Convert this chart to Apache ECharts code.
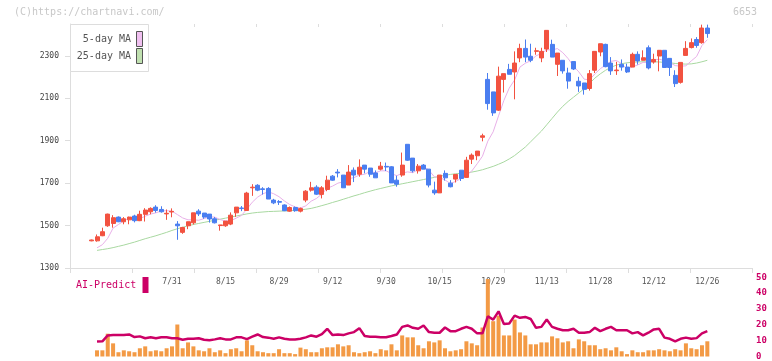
<!DOCTYPE html>
<html><head><meta charset="utf-8">
<script src="https://cdn.jsdelivr.net/npm/echarts@6/dist/echarts.min.js"></script>
<style>html,body{margin:0;padding:0;background:#fff}#c{width:772px;height:361px}</style>
</head><body><div id="c"></div>
<script>
// ---- data ----
const labelAt = {15:'7/31',25:'8/15',35:'8/29',45:'9/12',55:'9/30',65:'10/15',75:'10/29',85:'11/13',95:'11/28',105:'12/12',115:'12/26'};
const yTicks = [1300,1500,1700,1900,2100,2300];
const volTicks = [0,10,20,30,40,50];

const opens = [1428,1428,1452,1499,1510,1540,1518,1527,1545,1523,
1553,1565,1587,1576,1555,1564,1507,1468,1499,1513,
1568,1559,1554,1532,1500,1499,1507,1560,1583,1571,
1678,1690,1673,1675,1620,1613,1597,1568,1585,1568,
1620,1667,1681,1647,1670,1733,1752,1738,1691,1761,
1742,1785,1771,1748,1766,1779,1777,1714,1738,1883,
1818,1758,1785,1766,1667,1654,1746,1700,1719,1761,
1727,1813,1829,1916,2189,2130,2044,2189,2236,2224,
2290,2335,2298,2321,2290,2332,2354,2260,2279,2219,
2273,2180,2172,2146,2232,2318,2354,2266,2230,2260,
2247,2247,2307,2279,2338,2271,2299,2326,2288,2208,
2175,2302,2339,2377,2362,2431];
const highs = [1434,1458,1490,1556,1549,1543,1540,1542,1551,1570,
1582,1586,1596,1591,1576,1581,1521,1494,1518,1560,
1577,1559,1554,1540,1503,1521,1562,1587,1592,1659,
1695,1695,1681,1681,1626,1620,1600,1590,1590,1585,
1667,1706,1690,1686,1735,1738,1766,1738,1785,1774,
1812,1785,1771,1760,1800,1797,1780,1735,1844,1883,
1818,1790,1790,1766,1707,1738,1760,1714,1741,1761,
1824,1840,1851,1933,2219,2130,2249,2216,2262,2321,
2357,2377,2357,2338,2338,2420,2376,2313,2279,2244,
2273,2201,2172,2233,2321,2357,2357,2294,2272,2283,
2263,2315,2321,2326,2349,2310,2326,2326,2288,2232,
2269,2369,2382,2388,2447,2447];
const lows = [1426,1424,1450,1494,1490,1516,1506,1506,1515,1521,
1519,1553,1561,1561,1527,1539,1433,1461,1483,1505,
1545,1532,1514,1510,1476,1494,1502,1541,1568,1571,
1640,1662,1646,1625,1601,1597,1568,1565,1565,1562,
1610,1660,1645,1628,1662,1711,1727,1678,1691,1705,
1730,1746,1730,1725,1760,1757,1701,1683,1730,1805,
1750,1745,1766,1680,1645,1654,1712,1680,1703,1710,
1727,1790,1808,1897,2046,2017,2040,2127,2213,2095,
2270,2270,2270,2305,2270,2318,2294,2205,2216,2145,
2233,2130,2117,2136,2219,2298,2246,2210,2210,2230,
2219,2247,2259,2279,2236,2263,2227,2245,2205,2153,
2169,2302,2335,2338,2357,2385];
const closes = [1432,1447,1471,1554,1537,1518,1532,1540,1523,1553,
1573,1581,1571,1565,1558,1567,1499,1491,1518,1560,
1555,1540,1531,1513,1503,1521,1549,1587,1580,1653,
1681,1667,1670,1625,1607,1610,1570,1585,1570,1580,
1662,1678,1648,1678,1714,1714,1748,1678,1752,1738,
1775,1766,1742,1725,1780,1776,1701,1695,1785,1808,
1758,1780,1766,1691,1654,1738,1725,1683,1741,1722,
1808,1832,1851,1923,2075,2031,2204,2216,2213,2266,
2335,2294,2279,2324,2321,2420,2294,2313,2229,2181,
2238,2158,2142,2216,2321,2357,2249,2229,2233,2247,
2224,2307,2276,2291,2243,2283,2326,2245,2245,2169,
2269,2335,2362,2349,2431,2405];
const ma5 = [null,1395,1410,1440,1488,1505,1522,1536,1530,1533,
1544,1554,1560,1569,1570,1568,1552,1536,1527,1527,
1525,1533,1541,1540,1528,1522,1523,1535,1548,1578,
1610,1634,1650,1659,1650,1636,1616,1599,1588,1583,
1593,1615,1628,1649,1676,1686,1700,1706,1721,1726,
1738,1742,1755,1749,1758,1758,1745,1735,1747,1753,
1749,1765,1779,1761,1730,1726,1715,1698,1708,1722,
1736,1757,1791,1827,1898,1942,2017,2090,2148,2186,
2247,2265,2277,2300,2311,2328,2328,2334,2315,2287,
2251,2224,2190,2187,2215,2239,2257,2274,2278,2263,
2236,2248,2257,2269,2268,2280,2284,2278,2268,2254,
2251,2253,2276,2297,2349,2376];
const ma25 = [null,1383,1387,1391,1396,1402,1408,1415,1422,1430,
1438,1445,1452,1460,1468,1477,1485,1492,1499,1505,
1510,1515,1520,1525,1530,1535,1540,1545,1550,1555,
1559,1562,1564,1566,1567,1568,1569,1570,1572,1574,
1577,1581,1587,1594,1601,1609,1616,1624,1632,1640,
1647,1655,1662,1669,1675,1681,1687,1692,1697,1702,
1707,1712,1717,1722,1727,1732,1737,1741,1744,1746,
1748,1752,1757,1763,1771,1779,1789,1800,1814,1830,
1850,1870,1895,1920,1945,1975,2005,2035,2062,2085,
2105,2125,2145,2170,2195,2215,2232,2246,2256,2263,
2267,2270,2271,2272,2272,2272,2271,2269,2267,2264,
2262,2261,2262,2266,2272,2279];
const volume = [null,3.9,3.9,14.4,8.3,2.7,3.9,3.3,2.7,5.2,
6.4,3.3,3.9,3.3,5.2,6.4,20.2,5.2,8.9,6.4,
3.9,3.3,5.2,2.7,3.9,2.1,4.6,5.2,3.3,10.2,
7.1,3.3,2.7,2.1,2.1,4.6,2.1,2.1,1.5,5.6,
4.6,2.7,2.7,5.2,5.8,5.8,7.7,6.4,7.1,2.7,
2.1,2.7,3.3,2.1,4.6,3.9,7.7,3.9,13.3,12.1,
12.1,7.1,5.2,9.6,8.9,10.2,5.2,3.3,3.9,4.6,
9.6,8.3,7.1,18.3,48.9,22.3,25.8,13.3,13.3,23.3,
15.2,13.3,7.7,7.7,8.9,8.9,12.7,11.5,8.9,9.6,
5.2,10.8,9.6,7.1,7.1,4.6,5.2,3.9,5.8,3.3,
1.5,3.9,2.7,2.7,3.9,3.9,4.6,3.9,3.3,4.6,
3.9,8.3,5.2,4.6,7.1,9.6];
const aiPredict = [null,9.4,9.6,13.3,13.6,13.5,13.5,13.9,12.3,12.7,
11.5,12.1,11.5,12.1,12.1,11.5,11.5,10.6,11.2,11.2,
11.5,10.6,10.2,10.8,11.5,10.8,10.8,12.1,12.1,11.0,
12.5,13.9,12.3,11.9,11.2,12.1,11.2,10.8,10.8,11.2,
12.1,13.3,12.5,14.1,17.5,13.5,13.9,13.5,14.6,15.4,
17.9,12.9,12.5,12.5,12.1,12.1,12.9,13.9,18.7,19.6,
18.1,17.5,19.6,15.4,15.0,15.0,18.3,16.0,16.0,17.5,
18.7,17.5,14.6,14.6,25.4,23.3,28.5,20.5,20.8,25.8,
24.4,25.0,23.7,18.1,18.7,23.3,18.7,17.5,16.6,16.6,
17.5,15.0,15.0,15.4,18.1,16.0,17.5,18.7,16.6,16.6,
16.6,14.6,15.4,13.3,15.0,17.1,17.5,11.9,11.2,9.6,
11.2,11.9,11.2,11.6,14.6,16.0];

const categories = opens.map((_, i) => labelAt[i] || '');
const candleData = opens.map((o, i) => [o, closes[i], lows[i], highs[i]]);

// ---- chart ----
const FONT = 'DejaVu Sans Mono';
const AX = '#dddddd';
const chart = echarts.init(document.getElementById('c'), null, {renderer: 'canvas'});
const frameX = (inside, len, line) => ({
  gridIndex: 0, type: 'value', min: 0, max: 11, interval: 1,
  axisLine: {show: line, lineStyle: {color: AX}},
  axisTick: {show: true, inside: inside, length: len, lineStyle: {color: AX}},
  axisLabel: {show: false}, splitLine: {show: false}
});
chart.setOption({
  animation: false,
  grid: [
    {left: 70, right: 20, top: 24, bottom: 93},
    {left: 89, right: 62, top: 24, bottom: 93},
    {left: 89, right: 62, top: 277.3, bottom: 3.7}
  ],
  xAxis: [
    frameX(false, 5, true),
    frameX(true, 3, false),
    {gridIndex: 1, type: 'category', data: categories, boundaryGap: true,
     axisLine: {show: false}, axisTick: {show: false}, splitLine: {show: false},
     axisLabel: {interval: (i) => labelAt[i] !== undefined, margin: 10,
       fontFamily: FONT, fontSize: 8, color: '#555'}},
    {gridIndex: 2, type: 'category', data: categories, boundaryGap: true, show: false}
  ],
  yAxis: [
    {gridIndex: 0, type: 'value', min: 1300, max: 2450,
     axisLine: {show: true, lineStyle: {color: AX}},
     axisTick: {show: true, length: 5, customValues: yTicks, lineStyle: {color: AX}},
     axisLabel: {customValues: yTicks, margin: 11, fontFamily: FONT, fontSize: 8, color: '#444',
       formatter: (v) => String(v)},
     splitLine: {show: false}},
    {gridIndex: 0, type: 'value', min: 1300, max: 2450,
     axisLine: {show: false},
     axisTick: {show: true, inside: true, length: 3, customValues: yTicks, lineStyle: {color: AX}},
     axisLabel: {show: false}, splitLine: {show: false}},
    {gridIndex: 1, type: 'value', min: 1300, max: 2450, show: false},
    {gridIndex: 2, type: 'value', min: 0, max: 50, interval: 10, position: 'right', offset: 42,
     axisLine: {show: false}, axisTick: {show: false}, splitLine: {show: false},
     axisLabel: {margin: 4, fontFamily: FONT, fontSize: 9, fontWeight: 'bold', color: '#cc0066',
       formatter: (v) => String(v)}}
  ],
  series: [
    {type: 'bar', xAxisIndex: 3, yAxisIndex: 3, data: volume, barWidth: 4,
     itemStyle: {color: '#f39a45'}, z: 2},
    {type: 'line', xAxisIndex: 3, yAxisIndex: 3, data: aiPredict, symbol: 'none',
     lineStyle: {color: '#cc0066', width: 2.5}, z: 3},
    {type: 'line', xAxisIndex: 2, yAxisIndex: 2, data: ma25, symbol: 'none',
     lineStyle: {color: '#a8d8a0', width: 1}, z: 3},
    {type: 'line', xAxisIndex: 2, yAxisIndex: 2, data: ma5, symbol: 'none',
     lineStyle: {color: '#e8b0e8', width: 1}, z: 3},
    {type: 'candlestick', xAxisIndex: 2, yAxisIndex: 2, data: candleData, barWidth: 4.5,
     itemStyle: {color: '#f25240', color0: '#4a7ef0', borderColor: '#f25240', borderColor0: '#4a7ef0', borderWidth: 1},
     z: 4}
  ],
  graphic: [
    {type: 'text', left: 14, top: 7, z: 100,
     style: {text: '(C)https://chartnavi.com/', font: '10px ' + FONT, fill: '#c8c8c8'}},
    {type: 'text', right: 15, top: 7, z: 100,
     style: {text: '6653', font: '10px ' + FONT, fill: '#c8c8c8'}},
    {type: 'rect', shape: {x: 70.5, y: 24.5, width: 78, height: 47}, z: 100,
     style: {fill: '#fff', stroke: '#dddddd', lineWidth: 1}},
    {type: 'text', x: 131, y: 39, z: 101,
     style: {text: '5-day MA', font: '10px ' + FONT, fill: '#555', align: 'right', verticalAlign: 'middle'}},
    {type: 'text', x: 131, y: 56, z: 101,
     style: {text: '25-day MA', font: '10px ' + FONT, fill: '#555', align: 'right', verticalAlign: 'middle'}},
    {type: 'rect', shape: {x: 136.5, y: 31.5, width: 6, height: 15}, z: 101,
     style: {fill: '#f0c0f0', stroke: '#555', lineWidth: 1}},
    {type: 'rect', shape: {x: 136.5, y: 48.5, width: 6, height: 15}, z: 101,
     style: {fill: '#c0e0b0', stroke: '#555', lineWidth: 1}},
    {type: 'text', x: 76, y: 285, z: 100,
     style: {text: 'AI-Predict', font: '10px ' + FONT, fill: '#cc0066', verticalAlign: 'middle'}},
    {type: 'rect', shape: {x: 142.5, y: 277, width: 6, height: 16}, z: 100,
     style: {fill: '#cc0066'}}
  ]
});
</script></body></html>
